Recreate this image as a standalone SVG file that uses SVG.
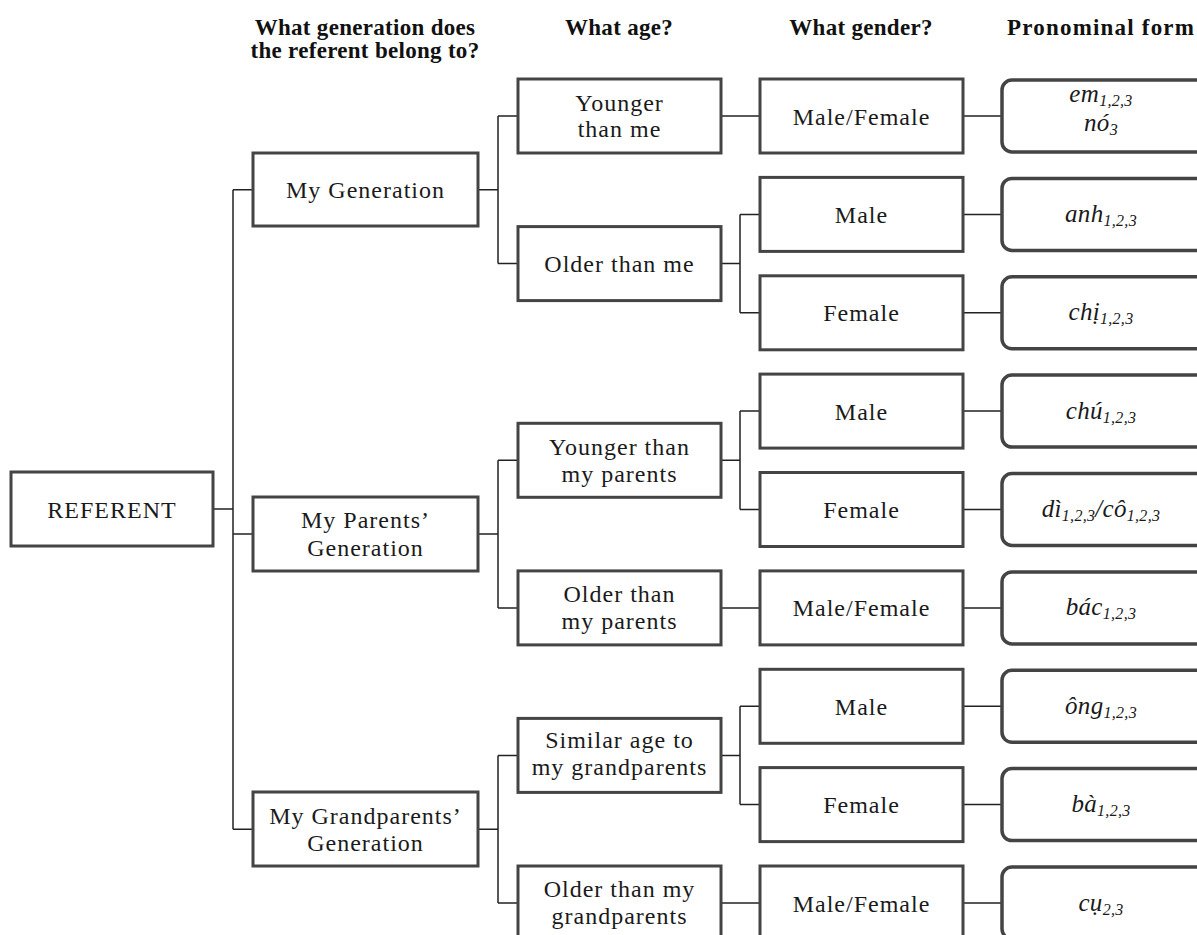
<svg xmlns="http://www.w3.org/2000/svg" width="1197" height="935" viewBox="0 0 1197 935">
<style>
.box{fill:#fff;stroke:#444;stroke-width:3}
.pbox{fill:#fff;stroke:#444;stroke-width:3.5}
.con{fill:none;stroke:#222;stroke-width:1.5}
.t{font-family:"Liberation Serif","Times New Roman",serif;font-size:24px;fill:#1a1a1a;text-anchor:middle;letter-spacing:1px}
.h{font-family:"Liberation Serif","Times New Roman",serif;font-size:23px;font-weight:bold;fill:#111;text-anchor:middle;letter-spacing:0.3px}
.p{font-family:"Liberation Serif","Times New Roman",serif;font-size:25px;font-style:italic;fill:#1a1a1a;text-anchor:middle;letter-spacing:0.3px}
.s{font-size:16px}
</style>
<rect width="1197" height="935" fill="#fff"/>
<g id="headers">
<text class="h" x="365" y="35">What generation does</text>
<text class="h" x="365" y="58">the referent belong to?</text>
<text class="h" x="619" y="35">What age?</text>
<text class="h" x="861" y="35">What gender?</text>
<text class="h" x="1007" y="35" style="text-anchor:start;letter-spacing:1.2px">Pronominal form</text>
</g>
<g id="connectors" class="con">
<path d="M213 509H233M233 189.8V829.2M233 189.8H253M233 534.1H253M233 829.2H253"/>
<path d="M478 189.8H498M498 116V263.6M498 116H518M498 263.6H518"/>
<path d="M478 534.1H498M498 460.3V607.9M498 460.3H518M498 607.9H518"/>
<path d="M478 829.2H498M498 755.4V903M498 755.4H518M498 903H518"/>
<path d="M721 116H760"/>
<path d="M721 263.6H740M740 214.4V312.8M740 214.4H760M740 312.8H760"/>
<path d="M721 460.3H740M740 411.1V509.5M740 411.1H760M740 509.5H760"/>
<path d="M721 607.9H760"/>
<path d="M721 755.4H740M740 706.3V804.6M740 706.3H760M740 804.6H760"/>
<path d="M721 903H760"/>
<path d="M963 116H1002M963 214.4H1002M963 312.8H1002M963 411.1H1002M963 509.5H1002M963 607.9H1002M963 706.3H1002M963 804.6H1002M963 903H1002"/>
</g>
<g id="referent"><rect class="box" x="11" y="472" width="202" height="74"/><text class="t" x="112" y="518">REFERENT</text></g>
<g id="gen-my"><rect class="box" x="253" y="153" width="225" height="73"/><text class="t" x="365.5" y="198">My Generation</text></g>
<g id="gen-parents"><rect class="box" x="253" y="497" width="225" height="74"/><text class="t" x="365.5" y="528">My Parents’</text><text class="t" x="365.5" y="556">Generation</text></g>
<g id="gen-grand"><rect class="box" x="253" y="792" width="225" height="74"/><text class="t" x="365.5" y="824">My Grandparents’</text><text class="t" x="365.5" y="851">Generation</text></g>
<g id="age-younger-me"><rect class="box" x="518" y="79" width="203" height="74"/><text class="t" x="619.5" y="111">Younger</text><text class="t" x="619.5" y="137">than me</text></g>
<g id="age-older-me"><rect class="box" x="518" y="226.6" width="203" height="74"/><text class="t" x="619.5" y="272">Older than me</text></g>
<g id="age-younger-parents"><rect class="box" x="518" y="423.3" width="203" height="74"/><text class="t" x="619.5" y="455">Younger than</text><text class="t" x="619.5" y="482">my parents</text></g>
<g id="age-older-parents"><rect class="box" x="518" y="570.9" width="203" height="74"/><text class="t" x="619.5" y="602">Older than</text><text class="t" x="619.5" y="629">my parents</text></g>
<g id="age-similar-grand"><rect class="box" x="518" y="718.4" width="203" height="74"/><text class="t" x="619.5" y="748">Similar age to</text><text class="t" x="619.5" y="775">my grandparents</text></g>
<g id="age-older-grand"><rect class="box" x="518" y="866" width="203" height="74"/><text class="t" x="619.5" y="897">Older than my</text><text class="t" x="619.5" y="924">grandparents</text></g>
<g id="g1"><rect class="box" x="760" y="79" width="203" height="74"/><text class="t" x="861.5" y="124.5">Male/Female</text></g>
<g id="g2"><rect class="box" x="760" y="177.4" width="203" height="74"/><text class="t" x="861.5" y="223">Male</text></g>
<g id="g3"><rect class="box" x="760" y="275.8" width="203" height="74"/><text class="t" x="861.5" y="321.3">Female</text></g>
<g id="g4"><rect class="box" x="760" y="374.1" width="203" height="74"/><text class="t" x="861.5" y="419.6">Male</text></g>
<g id="g5"><rect class="box" x="760" y="472.5" width="203" height="74"/><text class="t" x="861.5" y="518">Female</text></g>
<g id="g6"><rect class="box" x="760" y="570.9" width="203" height="74"/><text class="t" x="861.5" y="616.4">Male/Female</text></g>
<g id="g7"><rect class="box" x="760" y="669.3" width="203" height="74"/><text class="t" x="861.5" y="714.8">Male</text></g>
<g id="g8"><rect class="box" x="760" y="767.6" width="203" height="74"/><text class="t" x="861.5" y="813.1">Female</text></g>
<g id="g9"><rect class="box" x="760" y="866" width="203" height="74"/><text class="t" x="861.5" y="911.5">Male/Female</text></g>
<g id="p1"><rect class="pbox" x="1002" y="80" width="230" height="72" rx="10"/><text class="p" x="1101" y="102">em<tspan class="s" dy="4">1,2,3</tspan></text><text class="p" x="1101" y="131">nó<tspan class="s" dy="4">3</tspan></text></g>
<g id="p2"><rect class="pbox" x="1002" y="178.4" width="230" height="72" rx="10"/><text class="p" x="1101" y="222">anh<tspan class="s" dy="4">1,2,3</tspan></text></g>
<g id="p3"><rect class="pbox" x="1002" y="276.8" width="230" height="72" rx="10"/><text class="p" x="1101" y="320.3">chị<tspan class="s" dy="4">1,2,3</tspan></text></g>
<g id="p4"><rect class="pbox" x="1002" y="375.1" width="230" height="72" rx="10"/><text class="p" x="1101" y="418.6">chú<tspan class="s" dy="4">1,2,3</tspan></text></g>
<g id="p5"><rect class="pbox" x="1002" y="473.5" width="230" height="72" rx="10"/><text class="p" x="1101" y="517">dì<tspan class="s" dy="4">1,2,3</tspan><tspan dy="-4">/cô</tspan><tspan class="s" dy="4">1,2,3</tspan></text></g>
<g id="p6"><rect class="pbox" x="1002" y="571.9" width="230" height="72" rx="10"/><text class="p" x="1101" y="615.4">bác<tspan class="s" dy="4">1,2,3</tspan></text></g>
<g id="p7"><rect class="pbox" x="1002" y="670.3" width="230" height="72" rx="10"/><text class="p" x="1101" y="713.8">ông<tspan class="s" dy="4">1,2,3</tspan></text></g>
<g id="p8"><rect class="pbox" x="1002" y="768.6" width="230" height="72" rx="10"/><text class="p" x="1101" y="812.1">bà<tspan class="s" dy="4">1,2,3</tspan></text></g>
<g id="p9"><rect class="pbox" x="1002" y="867" width="230" height="72" rx="10"/><text class="p" x="1101" y="910.5">cụ<tspan class="s" dy="4">2,3</tspan></text></g>
</svg>
